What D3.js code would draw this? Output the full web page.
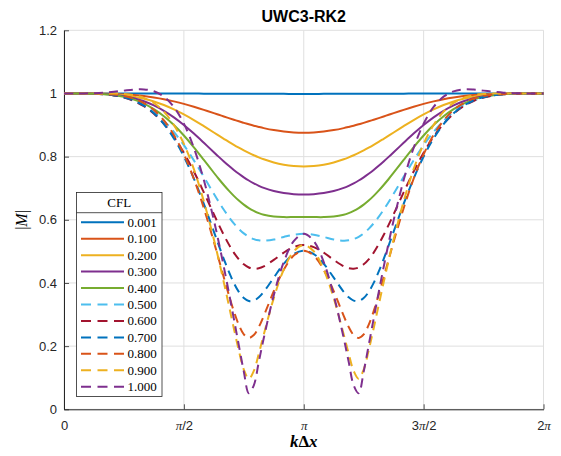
<!DOCTYPE html>
<html><head><meta charset="utf-8">
<script src="https://cdn.jsdelivr.net/npm/d3@7/dist/d3.min.js"></script>
<style>body{margin:0;background:#fff}svg{display:block}</style>
</head><body><svg id="c" width="561" height="456"></svg>
<script>
// k*dx in units of pi
const kdxOverPi = [0,0.0417,0.0833,0.125,0.1667,0.2083,0.25,0.2917,0.3333,0.375,0.4167,0.4583,0.5,0.5417,0.5833,0.625,0.6458,0.6667,0.6875,0.7083,0.7292,0.75,0.7708,0.7917,0.8125,0.8333,0.875,0.9167,0.9583,1,
1.0417,1.0833,1.125,1.1667,1.1875,1.2083,1.2292,1.25,1.2708,1.2917,1.3125,1.3333,1.3542,1.375,1.4167,1.4583,1.5,1.5417,1.5833,1.625,1.6667,1.7083,1.75,1.7917,1.8333,1.875,1.9167,1.9583,2];

const cflLabels = ["0.001","0.100","0.200","0.300","0.400","0.500","0.600","0.700","0.800","0.900","1.000"];

const M_0001 = [1,1,1,1,1,0.99999,0.99997,0.99995,0.99992,0.99987,0.99982,0.99975,0.99967,0.99957,0.99947,0.99936,0.99931,0.99925,0.99919,0.99914,0.99908,0.99903,0.99898,0.99893,0.99888,0.99884,0.99877,0.99871,0.99868,0.99867,
0.99868,0.99871,0.99877,0.99884,0.99888,0.99893,0.99898,0.99903,0.99908,0.99914,0.99919,0.99925,0.99931,0.99936,0.99947,0.99957,0.99967,0.99975,0.99982,0.99987,0.99992,0.99995,0.99997,0.99999,1,1,1,1,1];
const M_0100 = [1,1,1,0.9998,0.9994,0.9986,0.9971,0.9949,0.9917,0.9873,0.9818,0.9749,0.9670,0.9579,0.9481,0.9377,0.9325,0.9272,0.9220,0.9168,0.9118,0.9070,0.9024,0.8980,0.8940,0.8903,0.8840,0.8793,0.8765,0.8756,
0.8765,0.8793,0.8840,0.8903,0.8940,0.8980,0.9024,0.9070,0.9118,0.9168,0.9220,0.9272,0.9325,0.9377,0.9481,0.9579,0.9670,0.9749,0.9818,0.9873,0.9917,0.9949,0.9971,0.9986,0.9994,0.9998,1,1,1];
const M_0200 = [1,1,0.9999,0.9996,0.9988,0.9972,0.9943,0.9898,0.9833,0.9746,0.9634,0.9497,0.9338,0.9159,0.8965,0.8765,0.8664,0.8565,0.8467,0.8373,0.8283,0.8197,0.8117,0.8043,0.7976,0.7915,0.7815,0.7745,0.7703,0.7689,
0.7703,0.7745,0.7815,0.7915,0.7976,0.8043,0.8117,0.8197,0.8283,0.8373,0.8467,0.8565,0.8664,0.8765,0.8965,0.9159,0.9338,0.9497,0.9634,0.9746,0.9833,0.9898,0.9943,0.9972,0.9988,0.9996,0.9999,1,1];
const M_0300 = [1,1,0.9999,0.9994,0.9983,0.9958,0.9916,0.9849,0.9752,0.9621,0.9451,0.9244,0.9001,0.8729,0.8438,0.8139,0.7992,0.7848,0.7710,0.7579,0.7457,0.7345,0.7244,0.7155,0.7077,0.7010,0.6909,0.6845,0.6811,0.6800,
0.6811,0.6845,0.6909,0.7010,0.7077,0.7155,0.7244,0.7345,0.7457,0.7579,0.7710,0.7848,0.7992,0.8139,0.8438,0.8729,0.9001,0.9244,0.9451,0.9621,0.9752,0.9849,0.9916,0.9958,0.9983,0.9994,0.9999,1,1];
const M_0400 = [1,1,0.9999,0.9993,0.9978,0.9947,0.9892,0.9806,0.9679,0.9505,0.9279,0.8999,0.8669,0.8296,0.7897,0.7490,0.7292,0.7102,0.6923,0.6758,0.6610,0.6480,0.6370,0.6281,0.6211,0.6159,0.6101,0.6085,0.6086,0.6089,
0.6086,0.6085,0.6101,0.6159,0.6211,0.6281,0.6370,0.6480,0.6610,0.6758,0.6923,0.7102,0.7292,0.7490,0.7897,0.8296,0.8669,0.8999,0.9279,0.9505,0.9679,0.9806,0.9892,0.9947,0.9978,0.9993,0.9999,1,1];
const M_0500 = [1,1,0.9998,0.9992,0.9975,0.9939,0.9876,0.9774,0.9623,0.9412,0.9133,0.8783,0.8362,0.7881,0.7359,0.6825,0.6566,0.6320,0.6092,0.5888,0.5713,0.5570,0.5462,0.5389,0.5349,0.5337,0.5377,0.5457,0.5528,0.5556,
0.5528,0.5457,0.5377,0.5337,0.5349,0.5389,0.5462,0.5570,0.5713,0.5888,0.6092,0.6320,0.6566,0.6825,0.7359,0.7881,0.8362,0.8783,0.9133,0.9412,0.9623,0.9774,0.9876,0.9939,0.9975,0.9992,0.9998,1,1];
const M_0600 = [1,1,0.9998,0.9992,0.9974,0.9938,0.9871,0.9761,0.9595,0.9359,0.9039,0.8628,0.8122,0.7528,0.6868,0.6179,0.5841,0.5518,0.5222,0.4962,0.4749,0.4590,0.4490,0.4451,0.4465,0.4525,0.4730,0.4962,0.5136,0.5200,
0.5136,0.4962,0.4730,0.4525,0.4465,0.4451,0.4490,0.4590,0.4749,0.4962,0.5222,0.5518,0.5841,0.6179,0.6868,0.7528,0.8122,0.8628,0.9039,0.9359,0.9595,0.9761,0.9871,0.9938,0.9974,0.9992,0.9998,1,1];
const M_0700 = [1,1,0.9999,0.9993,0.9978,0.9945,0.9883,0.9778,0.9613,0.9370,0.9031,0.8578,0.8003,0.7305,0.6501,0.5628,0.5187,0.4757,0.4356,0.4003,0.3718,0.3523,0.3430,0.3442,0.3546,0.3720,0.4170,0.4608,0.4914,0.5022,
0.4914,0.4608,0.4170,0.3720,0.3546,0.3442,0.3430,0.3523,0.3718,0.4003,0.4356,0.4757,0.5187,0.5628,0.6501,0.7305,0.8003,0.8578,0.9031,0.9370,0.9613,0.9778,0.9883,0.9945,0.9978,0.9993,0.9999,1,1];
const M_0800 = [1,1,0.9999,0.9996,0.9986,0.9964,0.9918,0.9835,0.9695,0.9474,0.9146,0.8686,0.8074,0.7300,0.6368,0.5306,0.4744,0.4176,0.3622,0.3107,0.2673,0.2372,0.2260,0.2351,0.2606,0.2957,0.3739,0.4419,0.4867,0.5022,
0.4867,0.4419,0.3739,0.2957,0.2606,0.2351,0.2260,0.2372,0.2673,0.3107,0.3622,0.4176,0.4744,0.5306,0.6368,0.7300,0.8074,0.8686,0.9146,0.9474,0.9695,0.9835,0.9918,0.9964,0.9986,0.9996,0.9999,1,1];
const M_0900 = [1,1,1,1.0001,1.0002,0.9999,0.9985,0.9946,0.9859,0.9697,0.9423,0.9003,0.8404,0.7602,0.6584,0.5384,0.4717,0.4018,0.3297,0.2569,0.1866,0.1259,0.0966,0.1214,0.1759,0.2369,0.3519,0.4427,0.5003,0.5200,
0.5003,0.4427,0.3519,0.2369,0.1759,0.1214,0.0966,0.1259,0.1866,0.2569,0.3297,0.4018,0.4717,0.5384,0.6584,0.7602,0.8404,0.9003,0.9423,0.9697,0.9859,0.9946,0.9985,0.9999,1.0002,1.0001,1,1,1];
const M_1000 = [1,1,1.0002,1.0009,1.0025,1.0054,1.0090,1.0123,1.0128,1.0068,0.9899,0.9573,0.9044,0.8277,0.7257,0.5989,0.5272,0.4507,0.3703,0.2871,0.2026,0.1194,0.0511,0.0760,0.1502,0.2255,0.3613,0.4664,0.5328,0.5556,
0.5328,0.4664,0.3613,0.2255,0.1502,0.0760,0.0511,0.1194,0.2026,0.2871,0.3703,0.4507,0.5272,0.5989,0.7257,0.8277,0.9044,0.9573,0.9899,1.0068,1.0128,1.0123,1.0090,1.0054,1.0025,1.0009,1.0002,1,1];

const yTickValues = [0,0.2,0.4,0.6,0.8,1,1.2];
const xTickValuesOverPi = [0,0.5,1,1.5,2];
const xTickLabels = ["0","π/2","π","3π/2","2π"];

const seriesValues = [M_0001,M_0100,M_0200,M_0300,M_0400,M_0500,M_0600,M_0700,M_0800,M_0900,M_1000];
const colors = ["#0072BD","#D95319","#EDB120","#7E2F8E","#77AC30","#4DBEEE","#A2142F","#0072BD","#D95319","#EDB120","#7E2F8E"];
const dashed = [false,false,false,false,false,true,true,true,true,true,true];

const svg = d3.select("#c");
const L = 64, R = 543.5, T = 30.3, B = 409.3;
const x = d3.scaleLinear().domain([0, 2*Math.PI]).range([L, R]);
const y = d3.scaleLinear().domain([0, 1.2]).range([B, T]);
const axisColor = "#262626";
const sans = "'Liberation Sans', Arial, Helvetica, sans-serif";
const serif = "'Liberation Serif', 'Times New Roman', serif";

// grid
const g = svg.append("g");
g.selectAll("line.gy").data(yTickValues).enter().append("line")
  .attr("x1", L).attr("x2", R).attr("y1", d => y(d)).attr("y2", d => y(d))
  .attr("stroke", "#dfdfdf").attr("stroke-width", 1);
g.selectAll("line.gx").data(xTickValuesOverPi).enter().append("line")
  .attr("y1", T).attr("y2", B).attr("x1", d => x(d*Math.PI)).attr("x2", d => x(d*Math.PI))
  .attr("stroke", "#dfdfdf").attr("stroke-width", 1);

// axes
const yAxis = d3.axisLeft(y).tickValues(yTickValues).tickSizeInner(-5).tickSizeOuter(0)
  .tickFormat(d => d === 0 ? "0" : (d === 1 ? "1" : d3.format(".1f")(d)));
const ya = svg.append("g").attr("transform", `translate(${L},0)`).call(yAxis);
ya.select(".domain").attr("stroke", axisColor);
ya.selectAll(".tick line").attr("stroke", axisColor);
ya.selectAll(".tick text").attr("x", -7).attr("font-family", sans).attr("font-size", 13).attr("fill", axisColor);

const xAxis = d3.axisBottom(x).tickValues(xTickValuesOverPi.map(v => v*Math.PI)).tickSizeInner(-5).tickSizeOuter(0)
  .tickFormat((d,i) => xTickLabels[i]);
const xa = svg.append("g").attr("transform", `translate(0,${B})`).call(xAxis);
xa.select(".domain").attr("stroke", axisColor);
xa.selectAll(".tick line").attr("stroke", axisColor);
xa.selectAll(".tick text").attr("y", 11).attr("font-family", sans).attr("font-size", 13).attr("fill", axisColor)
  .each(function(d,i){
    const t = d3.select(this); const lab = xTickLabels[i]; t.text(null);
    for (const ch of lab) {
      if (ch === "π") t.append("tspan").attr("font-family", serif).attr("font-style","italic").text("π");
      else t.append("tspan").text(ch);
    }
  });
svg.selectAll(".domain").attr("stroke-width", 1);
svg.selectAll("g.tick line").attr("stroke-width", 0.8);

// lines
const line = d3.line().x((d,i) => x(kdxOverPi[i]*Math.PI)).y(d => y(d)).curve(d3.curveCatmullRom.alpha(0.5));
seriesValues.forEach((vals, si) => {
  svg.append("path").datum(vals).attr("d", line)
    .attr("fill", "none").attr("stroke", colors[si]).attr("stroke-width", 2)
    .attr("stroke-dasharray", dashed[si] ? "9,6" : null);
});

// title & labels
svg.append("text").attr("x", (L+R)/2).attr("y", 22).attr("text-anchor","middle")
  .attr("font-family", sans).attr("font-weight","bold").attr("font-size", 16).attr("fill","#000").text("UWC3-RK2");
const xl = svg.append("text").attr("x", (L+R)/2).attr("y", 447).attr("text-anchor","middle")
  .attr("font-family", serif).attr("font-weight","bold").attr("font-size", 17).attr("fill","#000");
xl.append("tspan").attr("font-style","italic").text("k");
xl.append("tspan").text("Δ");
xl.append("tspan").attr("font-style","italic").text("x");
svg.append("text").attr("transform", "translate(27,220) rotate(-90)").attr("text-anchor","middle")
  .attr("font-family", serif).attr("font-size", 16).attr("fill","#000")
  .html('|<tspan font-style="italic">M</tspan>|');

// legend
const lg = svg.append("g");
const lx0 = 76.5, ly0 = 192.5, lw = 85.5, lh = 204;
lg.append("rect").attr("x", lx0).attr("y", ly0).attr("width", lw).attr("height", lh)
  .attr("fill","#fff").attr("stroke", axisColor).attr("stroke-width", 0.8);
lg.append("line").attr("x1", lx0).attr("x2", lx0+lw).attr("y1", 212.7).attr("y2", 212.7).attr("stroke", axisColor).attr("stroke-width", 0.8);
lg.append("text").attr("x", lx0+lw/2).attr("y", 207).attr("text-anchor","middle")
  .attr("font-family", serif).attr("font-size", 13).attr("fill","#000").text("CFL");
cflLabels.forEach((lab, i) => {
  const yy = 222.3 + i*16.44;
  lg.append("line").attr("x1", 81).attr("x2", 124).attr("y1", yy).attr("y2", yy)
    .attr("stroke", colors[i]).attr("stroke-width", 2).attr("stroke-dasharray", dashed[i] ? "10,6.5" : null);
  lg.append("text").attr("x", 127.5).attr("y", yy+4.5).attr("font-family", serif).attr("font-size", 13)
    .attr("fill","#000").text(lab);
});
</script></body></html>
